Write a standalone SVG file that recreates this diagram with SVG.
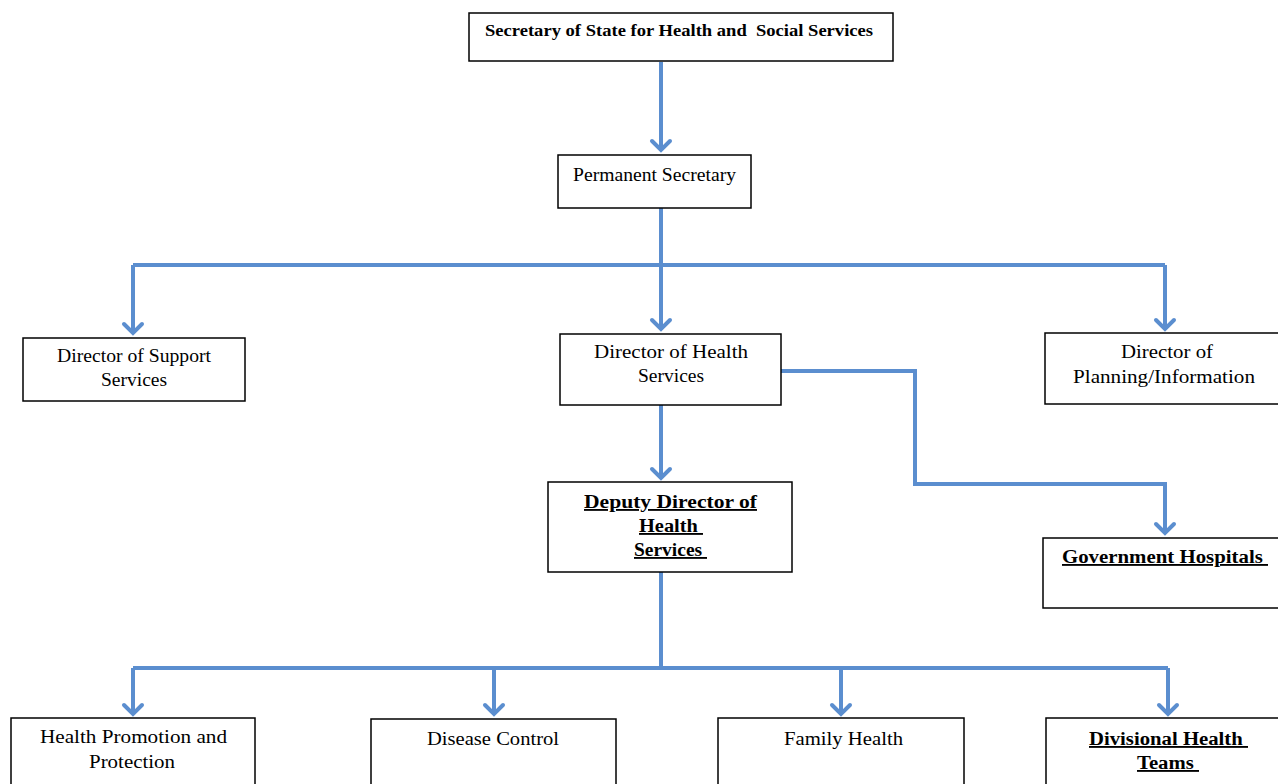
<svg xmlns="http://www.w3.org/2000/svg" width="1278" height="784" viewBox="0 0 1278 784">
<defs>
<marker id="chev" viewBox="-12 -12 24 24" markerWidth="24" markerHeight="24" refX="0" refY="0" orient="auto" markerUnits="userSpaceOnUse" overflow="visible">
<path d="M-9,-9 L0,0 L-9,9" fill="none" stroke="#5b8ecf" stroke-width="4" stroke-linecap="round" stroke-linejoin="miter"/>
</marker>
<style>
.box{fill:#fff;stroke:#000;stroke-width:1.5}
.t{font-family:"Liberation Serif","Times New Roman",serif;font-size:19.5px;fill:#000;text-anchor:middle}
.b{font-weight:bold;font-size:18.5px}
.u{text-decoration:underline;white-space:pre}
.c{fill:none;stroke:#5b8ecf;stroke-width:4;stroke-linejoin:miter}
</style>
</defs>
<rect width="1278" height="784" fill="#fff"/>
<g id="connectors">
<path class="c" d="M661,62 L661,150" marker-end="url(#chev)"/>
<path class="c" d="M661,208 L661,329" marker-end="url(#chev)"/>
<path class="c" d="M133,265 L1165,265"/>
<path class="c" d="M133,265 L133,333" marker-end="url(#chev)"/>
<path class="c" d="M1165,265 L1165,329" marker-end="url(#chev)"/>
<path class="c" d="M661,405 L661,478" marker-end="url(#chev)"/>
<path class="c" d="M781,371 L915,371 L915,484 L1165,484 L1165,533" marker-end="url(#chev)"/>
<path class="c" d="M661,572 L661,668"/>
<path class="c" d="M133,668 L1168,668"/>
<path class="c" d="M133,668 L133,714" marker-end="url(#chev)"/>
<path class="c" d="M494,668 L494,714" marker-end="url(#chev)"/>
<path class="c" d="M841,668 L841,714" marker-end="url(#chev)"/>
<path class="c" d="M1168,668 L1168,714" marker-end="url(#chev)"/>
</g>
<g id="n-secretary">
<rect class="box" x="469" y="13" width="424" height="48"/>
<text class="t b" x="679" y="36" font-size="17.5" style="white-space:pre;font-size:17.5px" textLength="388" lengthAdjust="spacingAndGlyphs">Secretary of State for Health and  Social Services</text>
</g>
<g id="n-permanent">
<rect class="box" x="558" y="155" width="193" height="53"/>
<text class="t" x="654.5" y="181" textLength="163" lengthAdjust="spacingAndGlyphs">Permanent Secretary</text>
</g>
<g id="n-support">
<rect class="box" x="23" y="338" width="222" height="63"/>
<text class="t" x="134" y="362" textLength="154" lengthAdjust="spacingAndGlyphs">Director of Support</text>
<text class="t" x="134" y="386">Services</text>
</g>
<g id="n-health">
<rect class="box" x="560" y="334" width="221" height="71"/>
<text class="t" x="671" y="358" textLength="154" lengthAdjust="spacingAndGlyphs">Director of Health</text>
<text class="t" x="671" y="382">Services</text>
</g>
<g id="n-planning">
<rect class="box" x="1045" y="333" width="240" height="71"/>
<text class="t" x="1167" y="358" textLength="92" lengthAdjust="spacingAndGlyphs">Director of</text>
<text class="t" x="1164" y="383" textLength="182" lengthAdjust="spacingAndGlyphs">Planning/Information</text>
</g>
<g id="n-deputy">
<rect class="box" x="548" y="482" width="244" height="90"/>
<text class="t b u" x="670.5" y="508" textLength="173" lengthAdjust="spacingAndGlyphs">Deputy Director of</text>
<text class="t b u" x="671" y="532" textLength="64" lengthAdjust="spacingAndGlyphs">Health </text>
<text class="t b u" x="670.5" y="556" textLength="73" lengthAdjust="spacingAndGlyphs">Services </text>
</g>
<g id="n-hospitals">
<rect class="box" x="1043" y="538" width="245" height="70"/>
<text class="t b u" x="1165" y="563" textLength="206" lengthAdjust="spacingAndGlyphs">Government Hospitals </text>
</g>
<g id="n-promotion">
<rect class="box" x="11" y="718" width="244" height="80"/>
<text class="t" x="133.5" y="743" textLength="187" lengthAdjust="spacingAndGlyphs">Health Promotion and</text>
<text class="t" x="132" y="768" textLength="86" lengthAdjust="spacingAndGlyphs">Protection</text>
</g>
<g id="n-disease">
<rect class="box" x="371" y="719" width="245" height="80"/>
<text class="t" x="493" y="745" textLength="132" lengthAdjust="spacingAndGlyphs">Disease Control</text>
</g>
<g id="n-family">
<rect class="box" x="718" y="718" width="246" height="80"/>
<text class="t" x="843.5" y="745" textLength="119" lengthAdjust="spacingAndGlyphs">Family Health</text>
</g>
<g id="n-divisional">
<rect class="box" x="1046" y="718" width="245" height="80"/>
<text class="t b u" x="1168.5" y="745" textLength="159" lengthAdjust="spacingAndGlyphs">Divisional Health </text>
<text class="t b u" x="1168" y="769" textLength="62" lengthAdjust="spacingAndGlyphs">Teams </text>
</g>
</svg>
